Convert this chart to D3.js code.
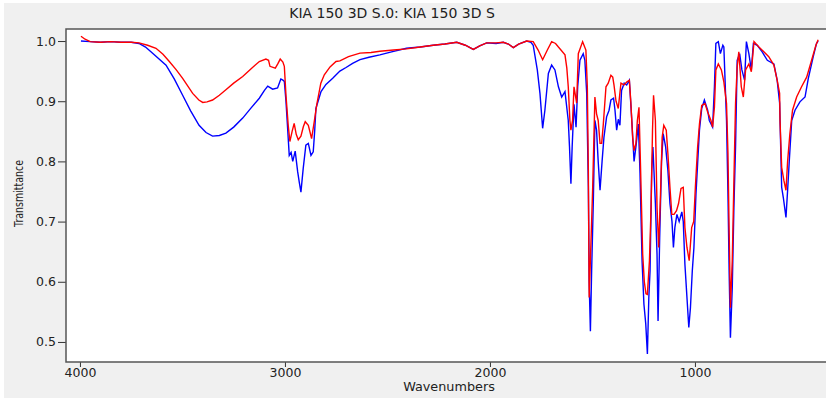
<!DOCTYPE html>
<html>
<head>
  <meta charset="UTF-8">
  <script src="https://d3js.org/d3.v7.min.js"></script>
  <style>
    body { margin: 0; background: #fff; }
    text { font-family: "DejaVu Sans", Verdana, sans-serif; fill: #222; }
  </style>
</head>
<body>
  <div id="chart"></div>
  <script>
    // data (wavenumber, transmittance)

    const title = "KIA 150 3D S.0: KIA 150 3D S";
    const xLabel = "Wavenumbers";
    const yLabel = "Transmittance";
    const xTicks = [4000, 3000, 2000, 1000];
    const yTicks = [0.5, 0.6, 0.7, 0.8, 0.9, 1.0];

    const blueSpectrum = [
      [3995, 1.0], [3950, 0.999], [3900, 0.998], [3850, 0.999], [3800, 0.998], [3750, 0.998],
      [3712, 0.996], [3680, 0.99], [3640, 0.978], [3580, 0.96], [3540, 0.937], [3499, 0.91],
      [3460, 0.884], [3419, 0.86], [3385, 0.848], [3353, 0.842], [3320, 0.843], [3288, 0.847],
      [3250, 0.857], [3206, 0.872], [3165, 0.889], [3125, 0.905], [3100, 0.918], [3084, 0.925],
      [3060, 0.92], [3036, 0.922], [3020, 0.937], [3010, 0.935], [3003, 0.933], [2995, 0.9],
      [2987, 0.855], [2979, 0.81], [2970, 0.815], [2962, 0.8], [2950, 0.817], [2938, 0.783],
      [2930, 0.765], [2922, 0.749], [2911, 0.788], [2898, 0.827], [2886, 0.83], [2873, 0.81],
      [2862, 0.816], [2855, 0.85], [2849, 0.888], [2824, 0.916], [2800, 0.928], [2767, 0.938],
      [2732, 0.95], [2702, 0.956], [2670, 0.963], [2634, 0.969], [2590, 0.973], [2537, 0.977],
      [2480, 0.982], [2407, 0.988], [2340, 0.99], [2277, 0.993], [2220, 0.995], [2162, 0.998],
      [2120, 0.993], [2081, 0.986], [2050, 0.992], [2016, 0.997], [1970, 0.996], [1935, 0.998],
      [1910, 0.995], [1886, 0.989], [1860, 0.995], [1821, 1.0], [1800, 0.998], [1789, 0.993],
      [1769, 0.952], [1756, 0.913], [1743, 0.855], [1732, 0.885], [1715, 0.946], [1699, 0.96],
      [1683, 0.952], [1666, 0.924], [1650, 0.907], [1634, 0.916], [1618, 0.868], [1612, 0.825],
      [1605, 0.763], [1599, 0.824], [1590, 0.895], [1580, 0.857], [1572, 0.924], [1561, 0.968],
      [1545, 0.979], [1537, 0.968], [1528, 0.913], [1520, 0.757], [1516, 0.6], [1510, 0.518],
      [1504, 0.618], [1496, 0.73], [1488, 0.868], [1480, 0.852], [1472, 0.8], [1463, 0.752],
      [1453, 0.8], [1444, 0.84], [1431, 0.874], [1419, 0.885], [1410, 0.902], [1397, 0.905],
      [1390, 0.885], [1382, 0.852], [1374, 0.87], [1366, 0.86], [1358, 0.918], [1345, 0.93],
      [1333, 0.927], [1320, 0.935], [1308, 0.868], [1297, 0.8], [1288, 0.824], [1276, 0.862],
      [1268, 0.78], [1258, 0.635], [1249, 0.563], [1240, 0.53], [1232, 0.48], [1225, 0.574],
      [1219, 0.618], [1211, 0.785], [1205, 0.824], [1193, 0.73], [1185, 0.646], [1180, 0.535],
      [1172, 0.674], [1163, 0.8], [1155, 0.846], [1143, 0.824], [1132, 0.785], [1122, 0.73],
      [1112, 0.7], [1105, 0.657], [1098, 0.69], [1088, 0.712], [1077, 0.7], [1064, 0.716],
      [1057, 0.7], [1049, 0.629], [1039, 0.574], [1030, 0.524], [1022, 0.557], [1013, 0.618],
      [1005, 0.657], [995, 0.746], [987, 0.796], [978, 0.852], [967, 0.888], [954, 0.902],
      [938, 0.885], [930, 0.868], [914, 0.857], [905, 0.924], [898, 0.996], [886, 0.999],
      [876, 0.979], [864, 0.993], [859, 0.99], [846, 0.868], [839, 0.746], [833, 0.613],
      [827, 0.507], [818, 0.59], [810, 0.724], [802, 0.824], [794, 0.968], [782, 0.979],
      [771, 0.952], [758, 0.935], [749, 0.999], [737, 0.979], [725, 0.952], [715, 0.996],
      [696, 0.993], [672, 0.982], [647, 0.968], [615, 0.962], [599, 0.935], [587, 0.897],
      [577, 0.757], [569, 0.74], [556, 0.707], [548, 0.752], [540, 0.8], [528, 0.868],
      [512, 0.885], [488, 0.899], [463, 0.907], [447, 0.938], [423, 0.974], [407, 0.996],
      [399, 1.0]
    ];

    const redSpectrum = [
      [3995, 1.008], [3975, 1.003], [3950, 0.999], [3900, 0.998], [3850, 0.999], [3800, 0.998],
      [3750, 0.998], [3712, 0.997], [3670, 0.993], [3629, 0.988], [3595, 0.978], [3564, 0.966],
      [3530, 0.952], [3499, 0.938], [3450, 0.913], [3420, 0.902], [3401, 0.898], [3380, 0.899],
      [3353, 0.902], [3320, 0.91], [3288, 0.919], [3250, 0.93], [3206, 0.941], [3165, 0.954],
      [3125, 0.966], [3093, 0.97], [3080, 0.968], [3073, 0.958], [3047, 0.955], [3035, 0.962],
      [3023, 0.97], [3010, 0.965], [3003, 0.958], [2995, 0.91], [2984, 0.86], [2976, 0.833],
      [2965, 0.85], [2955, 0.863], [2945, 0.845], [2935, 0.836], [2922, 0.842], [2910, 0.858],
      [2901, 0.866], [2886, 0.86], [2870, 0.838], [2857, 0.866], [2845, 0.894], [2825, 0.93],
      [2808, 0.944], [2780, 0.957], [2751, 0.966], [2732, 0.967], [2690, 0.974], [2634, 0.98],
      [2580, 0.981], [2537, 0.983], [2470, 0.985], [2407, 0.987], [2340, 0.99], [2277, 0.993],
      [2220, 0.995], [2162, 0.998], [2120, 0.993], [2081, 0.986], [2050, 0.992], [2016, 0.997],
      [1970, 0.997], [1935, 0.998], [1910, 0.995], [1886, 0.989], [1860, 0.995], [1821, 1.0],
      [1789, 0.999], [1765, 0.985], [1743, 0.969], [1720, 0.985], [1699, 0.999], [1680, 0.996],
      [1666, 0.99], [1634, 0.977], [1625, 0.955], [1618, 0.924], [1610, 0.868], [1605, 0.852],
      [1597, 0.868], [1590, 0.924], [1577, 0.897], [1569, 0.979], [1548, 0.999], [1532, 0.985],
      [1525, 0.924], [1520, 0.785], [1516, 0.574], [1509, 0.646], [1499, 0.755], [1488, 0.907],
      [1480, 0.879], [1472, 0.868], [1463, 0.83], [1455, 0.83], [1447, 0.862], [1434, 0.924],
      [1423, 0.93], [1410, 0.943], [1401, 0.94], [1395, 0.927], [1385, 0.9], [1374, 0.888],
      [1361, 0.93], [1346, 0.927], [1333, 0.932], [1320, 0.935], [1313, 0.9], [1304, 0.84],
      [1297, 0.818], [1288, 0.83], [1281, 0.868], [1273, 0.89], [1265, 0.785], [1255, 0.646],
      [1247, 0.6], [1239, 0.58], [1232, 0.579], [1222, 0.635], [1214, 0.724], [1207, 0.852],
      [1202, 0.91], [1193, 0.868], [1185, 0.724], [1177, 0.657], [1168, 0.746], [1160, 0.84],
      [1152, 0.86], [1140, 0.852], [1132, 0.813], [1122, 0.757], [1113, 0.712], [1102, 0.712],
      [1090, 0.718], [1080, 0.73], [1068, 0.755], [1057, 0.757], [1049, 0.69], [1039, 0.657],
      [1028, 0.635], [1016, 0.69], [1006, 0.7], [998, 0.757], [987, 0.824], [978, 0.862],
      [967, 0.893], [951, 0.896], [938, 0.882], [922, 0.868], [914, 0.857], [905, 0.89],
      [898, 0.952], [886, 0.962], [871, 0.952], [859, 0.932], [846, 0.896], [839, 0.813],
      [833, 0.68], [827, 0.557], [818, 0.635], [810, 0.768], [802, 0.896], [794, 0.957],
      [786, 0.982], [774, 0.924], [764, 0.907], [753, 0.952], [737, 0.962], [725, 0.949],
      [712, 0.999], [688, 0.99], [664, 0.982], [640, 0.974], [615, 0.96], [599, 0.935],
      [587, 0.913], [585, 0.868], [577, 0.79], [566, 0.768], [556, 0.752], [548, 0.8],
      [537, 0.846], [524, 0.885], [504, 0.907], [480, 0.924], [455, 0.94], [431, 0.968],
      [410, 0.993], [399, 1.002]
    ];

    // set up

    const W = 826, H = 400;
    const margin = { top: 29, right: -2, bottom: 38, left: 66 };
    const width = W - margin.left - margin.right;
    const height = H - margin.top - margin.bottom;

    const svg = d3.select('#chart')
      .append('svg')
        .attr('width', W)
        .attr('height', H);

    // window background: white edge, grey panel
    svg.append('rect')
        .attr('width', W).attr('height', H)
        .attr('fill', '#ffffff');
    svg.append('rect')
        .attr('x', 4).attr('y', 3)
        .attr('width', W - 4).attr('height', H - 5)
        .attr('fill', '#f0f0f0');

    const g = svg.append('g')
        .attr('transform', `translate(${margin.left},${margin.top})`);

    // scales

    const x = d3.scaleLinear()
        .domain([4068, 351])
        .range([0, width]);

    const y = d3.scaleLinear()
        .domain([0.4667, 1.02])
        .range([height, 0]);

    // plot area

    g.append('rect')
        .attr('width', width)
        .attr('height', height)
        .attr('fill', '#ffffff');

    // axes

    const xAxis = d3.axisBottom(x).tickValues(xTicks).tickSize(5).tickPadding(1)
        .tickSizeOuter(0).tickFormat(d3.format('d'));
    const yAxis = d3.axisLeft(y).tickValues(yTicks).tickSize(8).tickPadding(2)
        .tickSizeOuter(0).tickFormat(d3.format('.1f'));

    g.append('g')
        .attr('transform', `translate(0,${height})`)
        .call(xAxis)
        .call(g => g.select('.domain').remove())
        .call(g => g.selectAll('line').attr('stroke', '#333'))
        .call(g => g.selectAll('text')
            .attr('font-family', '"DejaVu Sans", Verdana, sans-serif')
            .attr('font-size', 12.5).attr('fill', '#333'));

    g.append('g')
        .call(yAxis)
        .call(g => g.select('.domain').remove())
        .call(g => g.selectAll('line').attr('stroke', '#333'))
        .call(g => g.selectAll('text')
            .attr('font-family', '"DejaVu Sans", Verdana, sans-serif')
            .attr('font-size', 12.5).attr('fill', '#333'));

    // lines

    const line = d3.line()
        .x(d => x(d[0]))
        .y(d => y(d[1]));

    g.append('clipPath').attr('id', 'plot-clip')
      .append('rect').attr('width', width).attr('height', height);

    g.append('path')
        .datum(blueSpectrum)
        .attr('clip-path', 'url(#plot-clip)')
        .attr('fill', 'none')
        .attr('stroke', '#0000ff')
        .attr('stroke-width', 1.4)
        .attr('d', line);

    g.append('path')
        .datum(redSpectrum)
        .attr('clip-path', 'url(#plot-clip)')
        .attr('fill', 'none')
        .attr('stroke', '#ff0000')
        .attr('stroke-width', 1.4)
        .attr('d', line);

    // frame

    g.append('rect')
        .attr('width', width)
        .attr('height', height)
        .attr('fill', 'none')
        .attr('stroke', '#555')
        .attr('stroke-width', 1.5);

    // labels

    svg.append('text')
        .attr('x', 392).attr('y', 18)
        .attr('text-anchor', 'middle')
        .attr('font-size', 14)
        .text(title);

    svg.append('text')
        .attr('x', 449).attr('y', 391)
        .attr('text-anchor', 'middle')
        .attr('font-size', 12.8)
        .text(xLabel);

    svg.append('text')
        .attr('transform', 'translate(23,193.5) rotate(-90)')
        .attr('text-anchor', 'middle')
        .attr('font-size', 13)
        .attr('textLength', 67)
        .attr('lengthAdjust', 'spacingAndGlyphs')
        .text(yLabel);
  </script>
</body>
</html>
